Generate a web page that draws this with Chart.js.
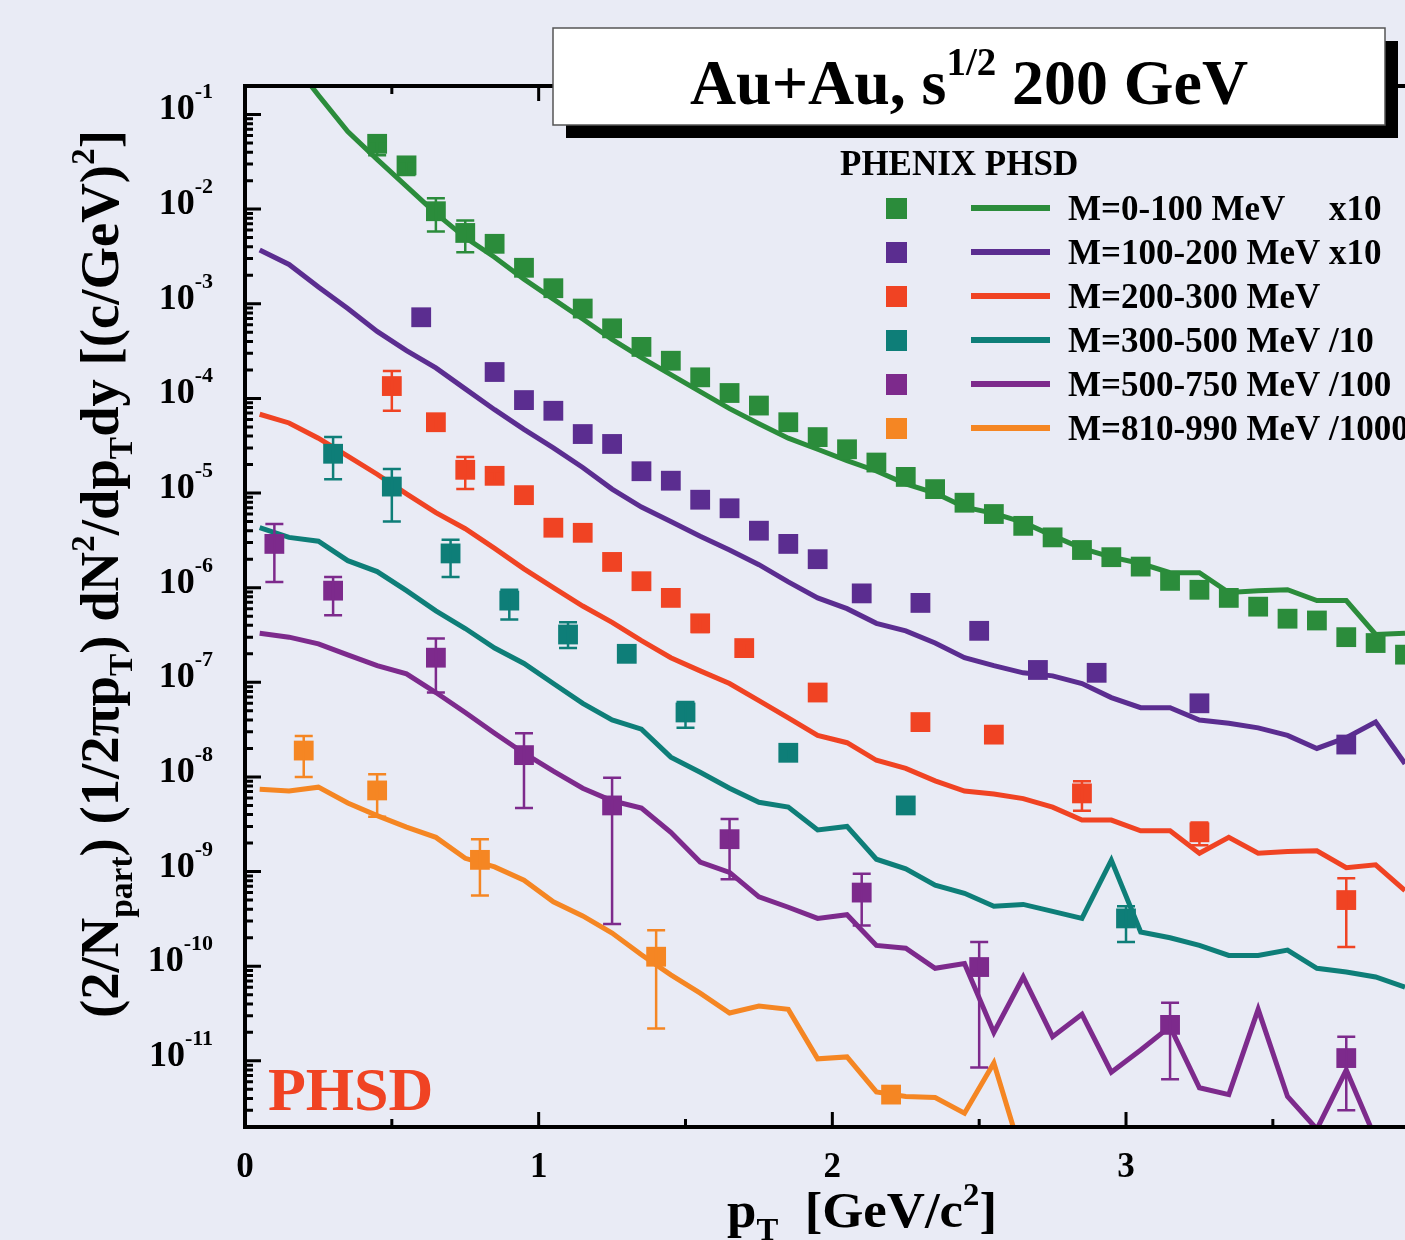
<!DOCTYPE html>
<html>
<head>
<meta charset="utf-8">
<script src="https://cdn.jsdelivr.net/npm/chart.js@4.4.0/dist/chart.umd.min.js"></script>
<style>
html,body{margin:0;padding:0;background:#e9ebf5;overflow:hidden;}
canvas{display:block;}
</style>
</head>
<body>
<canvas id="grafPt" width="1405" height="1240"></canvas>
<script>
// pT grid of the PHSD curves
const ptLinea = [0.05,0.15,0.25,0.35,0.45,0.55,0.65,0.75,0.85,0.95,1.05,1.15,1.25,1.35,1.45,1.55,1.65,1.75,1.85,1.95,
                 2.05,2.15,2.25,2.35,2.45,2.55,2.65,2.75,2.85,2.95,3.05,3.15,3.25,3.35,3.45,3.55,3.65,3.75,3.85,3.95]

// PHSD curves (already scaled)
const phsdM0   = [1.0,0.4,0.16,0.066,0.0335,0.0174,9.0e-3,5.0e-3,3.1e-3,1.82e-3,1.12e-3,6.9e-4,4.2e-4,2.7e-4,1.78e-4,1.18e-4,7.8e-5,5.4e-5,3.8e-5,2.9e-5,
                  2.2e-5,1.71e-5,1.25e-5,1.0e-5,7.1e-6,6.1e-6,4.9e-6,3.55e-6,2.6e-6,2.1e-6,1.8e-6,1.44e-6,1.44e-6,8.9e-7,9.3e-7,9.5e-7,7.3e-7,7.3e-7,3.2e-7,3.3e-7]
const phsdM100 = [3.7e-3,2.6e-3,1.5e-3,8.9e-4,5.1e-4,3.2e-4,2.1e-4,1.26e-4,7.6e-5,4.7e-5,3.0e-5,1.86e-5,1.1e-5,7.1e-6,5.0e-6,3.5e-6,2.5e-6,1.75e-6,1.15e-6,7.8e-7,
                  6.0e-7,4.2e-7,3.5e-7,2.6e-7,1.82e-7,1.5e-7,1.26e-7,1.17e-7,9.7e-8,6.9e-8,5.4e-8,5.4e-8,4.0e-8,3.7e-8,3.3e-8,2.75e-8,2.0e-8,2.6e-8,3.8e-8,1.38e-8]
const phsdM200 = [6.8e-5,5.5e-5,3.8e-5,2.45e-5,1.58e-5,9.8e-6,6.2e-6,4.2e-6,2.6e-6,1.58e-6,1.0e-6,6.4e-7,4.3e-7,2.75e-7,1.82e-7,1.32e-7,9.7e-8,6.4e-8,4.2e-8,2.75e-8,
                  2.3e-8,1.5e-8,1.23e-8,9.1e-9,7.1e-9,6.6e-9,5.9e-9,4.8e-9,3.5e-9,3.5e-9,2.7e-9,2.7e-9,1.56e-9,2.3e-9,1.56e-9,1.63e-9,1.66e-9,1.1e-9,1.18e-9,6.3e-10]
const phsdM300 = [4.3e-6,3.4e-6,3.1e-6,1.93e-6,1.48e-6,9.3e-7,5.7e-7,3.7e-7,2.3e-7,1.58e-7,9.7e-8,6.0e-8,4.0e-8,3.2e-8,1.62e-8,1.12e-8,7.6e-9,5.4e-9,4.8e-9,2.75e-9,
                  3.0e-9,1.35e-9,1.07e-9,7.2e-10,5.9e-10,4.3e-10,4.5e-10,3.8e-10,3.2e-10,1.32e-9,2.3e-10,2.0e-10,1.66e-10,1.3e-10,1.3e-10,1.48e-10,9.5e-11,8.7e-11,7.7e-11,6.0e-11]
const phsdM500 = [3.3e-7,3.0e-7,2.55e-7,1.95e-7,1.5e-7,1.23e-7,7.8e-8,4.8e-8,2.9e-8,1.78e-8,1.15e-8,7.6e-9,5.6e-9,4.7e-9,2.6e-9,1.26e-9,9.8e-10,5.4e-10,4.2e-10,3.2e-10,
                  3.5e-10,1.66e-10,1.55e-10,9.5e-11,1.07e-10,2.0e-11,7.7e-11,1.8e-11,3.1e-11,7.6e-12,1.3e-11,2.3e-11,5.2e-12,4.4e-12,3.5e-11,4.2e-12,1.9e-12,8.0e-12,1.5e-12,5e-13]
const phsdM810 = [7.4e-9,7.1e-9,7.8e-9,5.3e-9,3.9e-9,2.95e-9,2.3e-9,1.38e-9,1.12e-9,8.1e-10,4.8e-10,3.4e-10,2.24e-10,1.32e-10,8.1e-11,5.2e-11,3.2e-11,3.8e-11,3.5e-11,1.05e-11,
                  1.1e-11,4.7e-12,4.2e-12,4.1e-12,2.8e-12,9.5e-12,9e-13]

// PHENIX data points
const ptM0   = [0.45,0.55,0.65,0.75,0.85,0.95,1.05,1.15,1.25,1.35,1.45,1.55,1.65,1.75,1.85,1.95,2.05,2.15,2.25,2.35,2.45,2.55,2.65,2.75,2.85,2.95,3.05,3.15,3.25,3.35,3.45,3.55,3.65,3.75,3.85,3.95]
const datM0  = [4.9e-2,2.9e-2,9.5e-3,5.6e-3,4.3e-3,2.4e-3,1.46e-3,8.9e-4,5.5e-4,3.5e-4,2.5e-4,1.67e-4,1.14e-4,8.4e-5,5.6e-5,3.9e-5,2.9e-5,2.1e-5,1.48e-5,1.1e-5,
                7.9e-6,6.0e-6,4.5e-6,3.4e-6,2.5e-6,2.1e-6,1.67e-6,1.18e-6,9.5e-7,7.8e-7,6.3e-7,4.7e-7,4.5e-7,3.0e-7,2.6e-7,1.96e-7]
const errM0  = [[3.7e-2,5.2e-2],[2.3e-2,3.2e-2],[5.8e-3,1.3e-2],[3.5e-3,7.6e-3]]

const ptM100  = [0.6,0.85,0.95,1.05,1.15,1.25,1.35,1.45,1.55,1.65,1.75,1.85,1.95,2.1,2.3,2.5,2.7,2.9,3.25,3.75]
const datM100 = [7.2e-4,1.9e-4,9.6e-5,7.4e-5,4.2e-5,3.3e-5,1.7e-5,1.35e-5,8.5e-6,6.9e-6,4.0e-6,2.9e-6,2.0e-6,8.7e-7,6.9e-7,3.5e-7,1.35e-7,1.26e-7,6.0e-8,2.2e-8]
const errM100 = []

const ptM200  = [0.5,0.65,0.75,0.85,0.95,1.05,1.15,1.25,1.35,1.45,1.55,1.7,1.95,2.3,2.55,2.85,3.25,3.75]
const datM200 = [1.35e-4,5.6e-5,1.76e-5,1.52e-5,9.5e-6,4.3e-6,3.8e-6,1.87e-6,1.17e-6,7.8e-7,4.2e-7,2.3e-7,7.8e-8,3.8e-8,2.8e-8,6.7e-9,2.6e-9,5.0e-10]
const errM200 = [[7.4e-5,1.95e-4],[4.6e-5,6.5e-5],[1.1e-5,2.4e-5],[1.3e-5,1.7e-5],null,null,null,null,null,null,[3.4e-7,5.0e-7],[2.0e-7,2.6e-7],
                 null,null,null,[4.4e-9,9e-9],[1.9e-9,3.3e-9],[1.6e-10,8.5e-10]]

const ptM300  = [0.3,0.5,0.7,0.9,1.1,1.3,1.5,1.85,2.25,3.0]
const datM300 = [2.6e-5,1.17e-5,2.3e-6,7.3e-7,3.2e-7,2.0e-7,4.8e-8,1.8e-8,5.0e-9,3.2e-10]
const errM300 = [[1.4e-5,3.9e-5],[5.0e-6,1.8e-5],[1.3e-6,3.2e-6],[4.6e-7,9.5e-7],[2.3e-7,4.3e-7],null,[3.3e-8,6.2e-8],[1.5e-8,2.0e-8],null,[1.8e-10,4.3e-10]]

const ptM500  = [0.1,0.3,0.65,0.95,1.25,1.65,2.1,2.5,3.15,3.75]
const datM500 = [2.9e-6,9.3e-7,1.82e-7,1.7e-8,5.0e-9,2.2e-9,6.0e-10,9.8e-11,2.4e-11,1.07e-11]
const errM500 = [[1.15e-6,4.7e-6],[5.1e-7,1.3e-6],[7.8e-8,2.9e-7],[4.7e-9,2.9e-8],[2.8e-10,9.8e-9],[8.3e-10,3.6e-9],[2.7e-10,9.5e-10],[8.5e-12,1.8e-10],[6.4e-12,4.1e-11],[3.0e-12,1.8e-11]]

const ptM810  = [0.2,0.45,0.8,1.4,2.2]
const datM810 = [1.9e-8,7.2e-9,1.33e-9,1.26e-10,4.4e-12]
const errM810 = [[1.0e-8,2.7e-8],[3.8e-9,1.07e-8],[5.6e-10,2.2e-9],[2.2e-11,2.4e-10],null]

// axes
const xMayores = [0,1,2,3]
const xMenores = [0.5,1.5,2.5,3.5]
const yExponentes = [-1,-2,-3,-4,-5,-6,-7,-8,-9,-10,-11]

const etiquetas = ['M=0-100 MeV','M=100-200 MeV x10','M=200-300 MeV','M=300-500 MeV /10','M=500-750 MeV /100','M=810-990 MeV /1000']
const colores = ['#2b8c3b','#5b2d90','#f04323','#0e7e78','#7d2a8c','#f58623']

const series = [
    {pt: ptM0,   dat: datM0,   err: errM0,   linea: phsdM0},
    {pt: ptM100, dat: datM100, err: errM100, linea: phsdM100},
    {pt: ptM200, dat: datM200, err: errM200, linea: phsdM200},
    {pt: ptM300, dat: datM300, err: errM300, linea: phsdM300},
    {pt: ptM500, dat: datM500, err: errM500, linea: phsdM500},
    {pt: ptM810, dat: datM810, err: errM810, linea: phsdM810},
]

const SERIF = '"Liberation Serif", "Times New Roman", serif'

// draws text with sub/superscripts at the current origin
function textoRico(ctx, partes, size, align, ancho, supShift) {
    const sup = supShift === undefined ? 0.45 * size : supShift
    const fuentes = partes.map(p => 'bold ' + (p[1] === 'n' ? size : Math.round(size * 0.61)) + 'px ' + SERIF)
    let w = 0
    const ws = partes.map((p, i) => { ctx.font = fuentes[i]; const m = ctx.measureText(p[0]).width; w += m; return m })
    const s = ancho ? ancho / w : 1
    const x0 = align === 'center' ? -w * s / 2 : align === 'right' ? -w * s : 0
    ctx.save()
    ctx.translate(x0, 0)
    ctx.scale(s, 1)
    ctx.textAlign = 'left'
    ctx.textBaseline = 'alphabetic'
    let cx = 0
    partes.forEach((p, i) => {
        ctx.font = fuentes[i]
        const dy = p[1] === 'sup' ? -sup : p[1] === 'sub' ? 0.25 * size : 0
        ctx.fillText(p[0], cx, dy)
        cx += ws[i]
    })
    ctx.restore()
}

const fondo = {
    id: 'fondo',
    beforeDraw(chart) {
        const ctx = chart.ctx
        ctx.save()
        ctx.fillStyle = '#e9ebf5'
        ctx.fillRect(0, 0, chart.width, chart.height)
        ctx.restore()
    }
}

const barras = {
    id: 'barras',
    afterDatasetsDraw(chart) {
        const ctx = chart.ctx, xs = chart.scales.x, ys = chart.scales.y, a = chart.chartArea
        ctx.save()
        ctx.beginPath()
        ctx.rect(a.left, a.top, a.right - a.left, a.bottom - a.top)
        ctx.clip()
        ctx.lineWidth = 2.5
        series.forEach((s, k) => {
            ctx.strokeStyle = colores[k]
            s.err.forEach((e, i) => {
                if (!e) return
                const px = xs.getPixelForValue(s.pt[i])
                const lo = ys.getPixelForValue(e[0]), hi = ys.getPixelForValue(e[1])
                ctx.beginPath()
                ctx.moveTo(px, lo); ctx.lineTo(px, hi)
                ctx.moveTo(px - 9, lo); ctx.lineTo(px + 9, lo)
                ctx.moveTo(px - 9, hi); ctx.lineTo(px + 9, hi)
                ctx.stroke()
            })
        })
        ctx.restore()
    }
}

const marco = {
    id: 'marco',
    afterDraw(chart) {
        const ctx = chart.ctx, xs = chart.scales.x, ys = chart.scales.y
        const {left, right, top, bottom} = chart.chartArea
        ctx.save()
        ctx.strokeStyle = '#000'
        ctx.fillStyle = '#000'
        ctx.lineWidth = 4
        ctx.beginPath()
        ctx.moveTo(left, top - 2); ctx.lineTo(left, bottom + 2)
        ctx.moveTo(left - 2, bottom); ctx.lineTo(right + 2, bottom)
        ctx.moveTo(left - 2, top); ctx.lineTo(right + 2, top)
        ctx.stroke()

        // y ticks (inside)
        ctx.lineWidth = 3
        ctx.beginPath()
        for (let e = -12; e <= 0; e++) {
            for (let m = 1; m <= 9; m++) {
                const v = m * Math.pow(10, e)
                if (v < ys.min * 0.999 || v > ys.max * 1.001) continue
                const py = ys.getPixelForValue(v)
                ctx.moveTo(left, py); ctx.lineTo(left + (m === 1 ? 16 : 8), py)
            }
        }
        // x ticks (inside, bottom and top)
        xMayores.forEach(v => {
            const px = xs.getPixelForValue(v)
            ctx.moveTo(px, bottom); ctx.lineTo(px, bottom - 15)
            ctx.moveTo(px, top); ctx.lineTo(px, top + 15)
        })
        xMenores.forEach(v => {
            const px = xs.getPixelForValue(v)
            ctx.moveTo(px, bottom); ctx.lineTo(px, bottom - 8)
            ctx.moveTo(px, top); ctx.lineTo(px, top + 8)
        })
        ctx.stroke()

        // tick labels
        yExponentes.forEach(e => {
            const py = ys.getPixelForValue(Math.pow(10, e))
            ctx.save()
            ctx.translate(213, py + 5)
            textoRico(ctx, [['10', 'n'], [String(e), 'sup']], 36, 'right', null, 21)
            ctx.restore()
        })
        xMayores.forEach(v => {
            ctx.save()
            ctx.translate(xs.getPixelForValue(v), 1177)
            textoRico(ctx, [[String(v), 'n']], 35, 'center')
            ctx.restore()
        })

        // axis titles
        ctx.save()
        ctx.translate(118, 574)
        ctx.rotate(-Math.PI / 2)
        textoRico(ctx, [['(2/N', 'n'], ['part', 'sub'], [') (1/2\u03c0p', 'n'], ['T', 'sub'], [') dN', 'n'], ['2', 'sup'],
                        ['/dp', 'n'], ['T', 'sub'], ['dy [(c/GeV)', 'n'], ['2', 'sup'], [']', 'n']], 54, 'center', 888)
        ctx.restore()
        ctx.save()
        ctx.translate(862, 1227)
        textoRico(ctx, [['p', 'n'], ['T', 'sub'], ['  [GeV/c', 'n'], ['2', 'sup'], [']', 'n']], 50, 'center', 270)
        ctx.restore()

        // title box
        ctx.fillStyle = '#000'
        ctx.fillRect(566, 41, 832, 97)
        ctx.fillStyle = '#fff'
        ctx.fillRect(553, 28, 832, 97)
        ctx.lineWidth = 1.5
        ctx.strokeStyle = '#555'
        ctx.strokeRect(553, 28, 832, 97)
        ctx.fillStyle = '#000'
        ctx.save()
        ctx.translate(969, 104)
        textoRico(ctx, [['Au+Au, s', 'n'], ['1/2', 'sup'], [' 200 GeV', 'n']], 64, 'center', 558)
        ctx.restore()

        // legend
        ctx.save()
        ctx.translate(840, 175)
        textoRico(ctx, [['PHENIX PHSD', 'n']], 35, 'left')
        ctx.restore()
        etiquetas.forEach((t, i) => {
            const cy = 208 + 44 * i
            ctx.fillStyle = colores[i]
            ctx.fillRect(886, cy - 10, 21, 21)
            ctx.strokeStyle = colores[i]
            ctx.lineWidth = 6
            ctx.beginPath(); ctx.moveTo(971, cy); ctx.lineTo(1050, cy); ctx.stroke()
            ctx.fillStyle = '#000'
            ctx.save()
            ctx.translate(1068, cy + 12)
            textoRico(ctx, [[t, 'n']], 35, 'left')
            ctx.restore()
        })
        ctx.save()
        ctx.translate(1329, 220)
        textoRico(ctx, [['x10', 'n']], 35, 'left')
        ctx.restore()

        // PHSD label
        ctx.fillStyle = '#f04323'
        ctx.save()
        ctx.translate(268, 1110)
        textoRico(ctx, [['PHSD', 'n']], 62, 'left')
        ctx.restore()
        ctx.restore()
    }
}

document.addEventListener('DOMContentLoaded', () => {
    const datasets = []
    series.forEach((s, k) => {
        datasets.push({
            label: etiquetas[k] + ' data',
            data: s.pt.map((x, i) => ({x: x, y: s.dat[i]})),
            showLine: false,
            pointStyle: 'rect',
            pointRadius: 14,
            pointBorderWidth: 0,
            backgroundColor: colores[k],
            borderColor: colores[k],
            order: 0,
        })
    })
    series.forEach((s, k) => {
        datasets.push({
            label: etiquetas[k],
            data: s.linea.map((y, i) => ({x: ptLinea[i], y: y})),
            borderColor: colores[k],
            backgroundColor: colores[k],
            borderWidth: 5,
            pointRadius: 0,
            tension: 0,
            clip: 0,
            order: 1,
        })
    })

    new Chart(document.getElementById('grafPt'), {
        type: 'line',
        data: {datasets: datasets},
        options: {
            responsive: false,
            animation: false,
            devicePixelRatio: 1,
            layout: {autoPadding: false, padding: {top: 86, left: 0, right: 0, bottom: 0}},
            plugins: {legend: {display: false}, tooltip: {enabled: false}},
            scales: {
                x: {
                    type: 'linear',
                    min: 0,
                    max: 3.95,
                    grid: {display: false},
                    border: {display: false},
                    ticks: {display: false},
                    afterFit: s => { s.height = 113 },
                },
                y: {
                    type: 'logarithmic',
                    min: 2e-12,
                    max: 0.2,
                    grid: {display: false},
                    border: {display: false},
                    ticks: {display: false},
                    afterFit: s => { s.width = 245 },
                },
            },
        },
        plugins: [fondo, barras, marco],
    })
})
</script>
</body>
</html>
